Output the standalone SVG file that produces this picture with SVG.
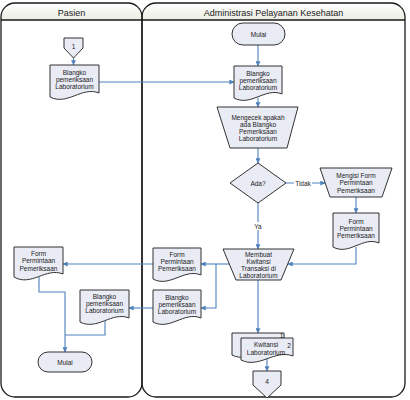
<svg xmlns="http://www.w3.org/2000/svg" width="410" height="400" viewBox="0 0 410 400">
<defs>
<linearGradient id="hdr" x1="0" y1="0" x2="0" y2="1"><stop offset="0" stop-color="#ffffff"/><stop offset="1" stop-color="#ecece2"/></linearGradient>
<marker id="arr" viewBox="0 0 8 8" refX="7.5" refY="4" markerWidth="5" markerHeight="5" orient="auto" markerUnits="userSpaceOnUse"><path d="M0,0 L8,4 L0,8 Z" fill="#4f81bd"/></marker>
<style>
.lane{fill:none;stroke:#1a1a1a;stroke-width:1.3}
.hd{fill:url(#hdr);stroke:none}
.ht{font-family:"Liberation Sans",Arial,sans-serif;font-size:9px;fill:#222;text-anchor:middle}
.n{fill:#e9ebf5;stroke:#333;stroke-width:1}
.t{font-family:"Liberation Sans",Arial,sans-serif;font-size:6.5px;fill:#222;text-anchor:middle}
.c{fill:none;stroke:#4f81bd;stroke-width:1.1}
.a{marker-end:url(#arr)}
.lb{fill:#fff;stroke:none}
</style>
</defs>
<g id="lanes">
<path class="hd" d="M1,20 V17 A14,14 0 0 1 15,3 H128 A14,14 0 0 1 142,17 V20 Z"/>
<path class="hd" d="M142,20 V17 A14,14 0 0 1 156,3 H391 A14,14 0 0 1 405,17 V20 Z"/>
<path class="lane" d="M1,17 A14,14 0 0 1 15,3 H128 A14,14 0 0 1 142,17 V383 A14,14 0 0 1 128,397 H15 A14,14 0 0 1 1,383 Z"/>
<path class="lane" d="M142,17 A14,14 0 0 1 156,3 H391 A14,14 0 0 1 405,17 V383 A14,14 0 0 1 391,397 H156 A14,14 0 0 1 142,383 Z"/>
<line class="lane" x1="1" y1="20" x2="405" y2="20"/>
<text class="ht" x="71.5" y="15.5">Pasien</text>
<text class="ht" x="273.5" y="15.5">Administrasi Pelayanan Kesehatan</text>
</g>
<g id="connectors">
<line class="c a" x1="73.5" y1="58" x2="73.5" y2="65"/>
<line class="c a" x1="99" y1="82" x2="234" y2="82"/>
<line class="c a" x1="258" y1="45" x2="258" y2="66"/>
<line class="c a" x1="258" y1="98" x2="258" y2="107"/>
<line class="c a" x1="258" y1="148" x2="258" y2="163"/>
<line class="c a" x1="286" y1="183" x2="325" y2="183"/>
<line class="c a" x1="356" y1="197" x2="356" y2="213"/>
<line class="c a" x1="258" y1="203" x2="258" y2="249"/>
<polyline class="c a" points="356,247 356,264 288,264"/>
<polyline class="c a" points="229,264 216,264 201,264"/>
<polyline class="c a" points="216,264 216,308 201,308"/>
<line class="c a" x1="153" y1="264" x2="63" y2="264"/>
<line class="c a" x1="153" y1="308" x2="129" y2="308"/>
<polyline class="c a" points="39,277 39,292 65,292 65,352"/>
<polyline class="c" points="105,321 105,335 65,335"/>
<line class="c a" x1="258" y1="280" x2="258" y2="333"/>
<line class="c a" x1="267" y1="359" x2="267" y2="371"/>
<rect class="lb" x="294" y="179" width="18" height="8"/>
<text class="t" x="303" y="185.5">Tidak</text>
<rect class="lb" x="253" y="222" width="10" height="8"/>
<text class="t" x="258" y="228.5">Ya</text>
</g>
<g id="off1">
<path class="n" d="M64,38 H83 V48 L73.5,58 L64,48 Z"/>
<text class="t" x="73.5" y="48.5">1</text>
</g>
<g id="docPasien1">
<path class="n" d="M50,65 H99 V93 C81.9,86 67.2,106 50,97 Z"/>
<text class="t" x="74.5" y="74.5">Blangko</text>
<text class="t" x="74.5" y="81.5">pemeriksaan</text>
<text class="t" x="74.5" y="88.5">Laboratorium</text>
</g>
<g id="mulaiAdmin">
<rect class="n" x="232" y="23" width="53" height="22" rx="11"/>
<text class="t" x="258.5" y="37">Mulai</text>
</g>
<g id="docAdmin1">
<path class="n" d="M234,66 H282 V94 C265.2,87 250.8,107 234,98 Z"/>
<text class="t" x="258" y="75.5">Blangko</text>
<text class="t" x="258" y="82.5">pemeriksaan</text>
<text class="t" x="258" y="89.5">Laboratorium</text>
</g>
<g id="cek">
<path class="n" d="M217,107 H298 L287,148 H230 Z"/>
<text class="t" x="258" y="119.5">Mengecek apakah</text>
<text class="t" x="258" y="126.5">ada Blangko</text>
<text class="t" x="258" y="133.5">Pemeriksaan</text>
<text class="t" x="258" y="140.5">Laboratorium</text>
</g>
<g id="ada">
<path class="n" d="M258,163 L286,183 L258,203 L230,183 Z"/>
<text class="t" x="258" y="185.5">Ada?</text>
</g>
<g id="mengisi">
<path class="n" d="M320,168 H392 L382,197 H330 Z"/>
<text class="t" x="356" y="177.5">Mengisi Form</text>
<text class="t" x="356" y="185">Permintaan</text>
<text class="t" x="356" y="192.5">Pemeriksaan</text>
</g>
<g id="formAdminR">
<path class="n" d="M333,213 H379 V243 C362.9,236 349.1,256 333,247 Z"/>
<text class="t" x="356" y="223.5">Form</text>
<text class="t" x="356" y="230.5">Permintaan</text>
<text class="t" x="356" y="237.5">Pemeriksaan</text>
</g>
<g id="membuat">
<path class="n" d="M223,249 H294 L281,280 H236 Z"/>
<text class="t" x="258.5" y="256.5">Membuat</text>
<text class="t" x="258.5" y="263.5">Kwitansi</text>
<text class="t" x="258.5" y="270.5">Transaksi di</text>
<text class="t" x="258.5" y="277.5">Laboratorium</text>
</g>
<g id="formAdminL">
<path class="n" d="M153,248 H201 V275 C184.2,268 169.8,288 153,279 Z"/>
<text class="t" x="177" y="256.5">Form</text>
<text class="t" x="177" y="263.5">Permintaan</text>
<text class="t" x="177" y="270.5">Pemeriksaan</text>
</g>
<g id="blangkoAdmin2">
<path class="n" d="M153,290 H201 V318 C184.2,311 169.8,331 153,322 Z"/>
<text class="t" x="177" y="299.5">Blangko</text>
<text class="t" x="177" y="306.5">pemeriksaan</text>
<text class="t" x="177" y="313.5">Laboratorium</text>
</g>
<g id="formPasien">
<path class="n" d="M14,247 H63 V274 C45.9,267 31.2,287 14,277 Z"/>
<text class="t" x="38.5" y="255.5">Form</text>
<text class="t" x="38.5" y="263">Permintaan</text>
<text class="t" x="38.5" y="270.5">Pemeriksaan</text>
</g>
<g id="blangkoPasien2">
<path class="n" d="M80,290 H129 V318 C111.9,311 97.2,331 80,322 Z"/>
<text class="t" x="104.5" y="298.5">Blangko</text>
<text class="t" x="104.5" y="305.5">pemeriksaan</text>
<text class="t" x="104.5" y="313">Laboratorium</text>
</g>
<g id="mulaiPasien">
<rect class="n" x="38" y="352" width="54" height="20" rx="10"/>
<text class="t" x="65" y="364.5">Mulai</text>
</g>
<g id="kwitansi">
<path class="n" d="M232,333 H284 V351 C265.8,344 250.2,364 232,355 Z"/>
<path class="n" d="M241,338 H293 V356 C274.8,349 259.2,369 241,360 Z"/>
<text class="t" x="281.5" y="338">1</text>
<text class="t" x="289" y="347.5">2</text>
<text class="t" x="266" y="346.5">Kwitansi</text>
<text class="t" x="266" y="355">Laboratorium</text>
</g>
<g id="off4">
<path class="n" d="M253,371 H281 V385 L267,398 L253,385 Z"/>
<text class="t" x="267" y="383.5">4</text>
</g>
</svg>
